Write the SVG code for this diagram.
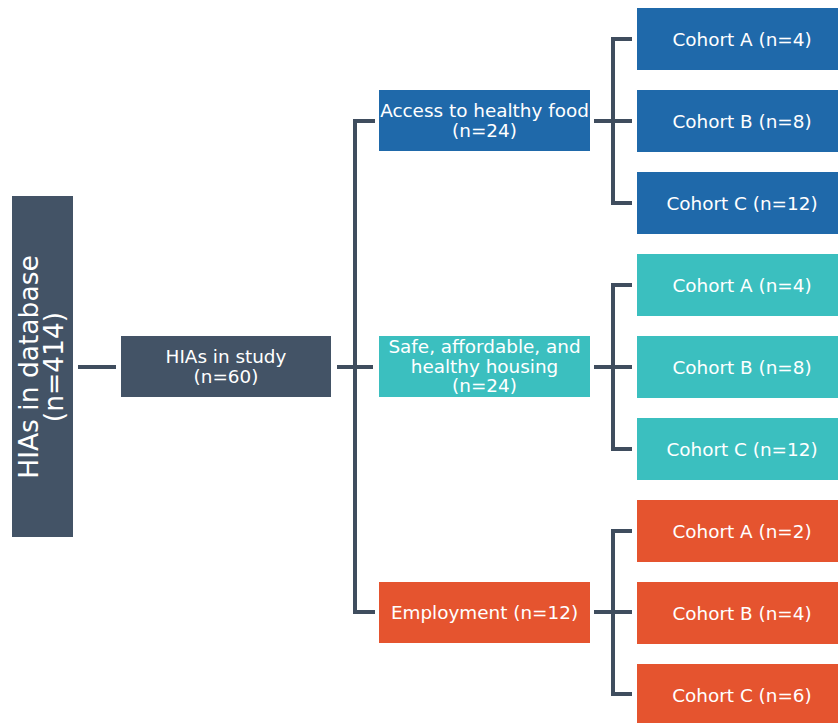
<svg xmlns="http://www.w3.org/2000/svg" width="838" height="723" viewBox="0 0 838 723">
<style>
text{font-family:"DejaVu Sans",Verdana,sans-serif;fill:#ffffff;text-anchor:middle}
.t{font-size:18.4px}
.slate{fill:#435366}
.blue{fill:#1f69aa}
.teal{fill:#3bbfbf}
.orange{fill:#e5542f}
.c{fill:none;stroke:#3f4d5e;stroke-width:4}
</style>
<rect width="838" height="723" fill="#ffffff"/>
<g id="connectors">
<path class="c" d="M78 367H116"/>
<path class="c" d="M337 367H373"/>
<path class="c" d="M375 121H355V612H375"/>
<path class="c" d="M594 121H632"/>
<path class="c" d="M594 367H632"/>
<path class="c" d="M594 612H632"/>
<path class="c" d="M632 39H613V203H632"/>
<path class="c" d="M632 285H613V449H632"/>
<path class="c" d="M632 531H613V694H632"/>
</g>
<g id="database">
<rect class="slate" x="12" y="196" width="61" height="341"/>
<text transform="translate(42 367) rotate(-90)" style="font-size:26.5px"><tspan x="0" y="-4">HIAs in database</tspan><tspan x="0" y="21">(n=414)</tspan></text>
</g>
<g id="study">
<rect class="slate" x="121" y="336" width="210" height="61"/>
<text class="t"><tspan x="226" y="363">HIAs in study</tspan><tspan x="226" y="383">(n=60)</tspan></text>
</g>
<g id="food">
<rect class="blue" x="379" y="90" width="211" height="61"/>
<text class="t"><tspan x="484.5" y="117">Access to healthy food</tspan><tspan x="484.5" y="137">(n=24)</tspan></text>
</g>
<g id="housing">
<rect class="teal" x="379" y="336" width="211" height="61"/>
<text class="t"><tspan x="484.5" y="353">Safe, affordable, and</tspan><tspan x="484.5" y="373">healthy housing</tspan><tspan x="484.5" y="392">(n=24)</tspan></text>
</g>
<g id="employment">
<rect class="orange" x="379" y="582" width="211" height="61"/>
<text class="t" x="484.5" y="619">Employment (n=12)</text>
</g>
<g id="food-a"><rect class="blue" x="637" y="8" width="201" height="62"/><text class="t" x="742" y="46">Cohort A (n=4)</text></g>
<g id="food-b"><rect class="blue" x="637" y="90" width="201" height="62"/><text class="t" x="742" y="128">Cohort B (n=8)</text></g>
<g id="food-c"><rect class="blue" x="637" y="172" width="201" height="62"/><text class="t" x="742" y="210">Cohort C (n=12)</text></g>
<g id="housing-a"><rect class="teal" x="637" y="254" width="201" height="62"/><text class="t" x="742" y="292">Cohort A (n=4)</text></g>
<g id="housing-b"><rect class="teal" x="637" y="336" width="201" height="62"/><text class="t" x="742" y="374">Cohort B (n=8)</text></g>
<g id="housing-c"><rect class="teal" x="637" y="418" width="201" height="62"/><text class="t" x="742" y="456">Cohort C (n=12)</text></g>
<g id="employment-a"><rect class="orange" x="637" y="500" width="201" height="62"/><text class="t" x="742" y="538">Cohort A (n=2)</text></g>
<g id="employment-b"><rect class="orange" x="637" y="582" width="201" height="62"/><text class="t" x="742" y="620">Cohort B (n=4)</text></g>
<g id="employment-c"><rect class="orange" x="637" y="664" width="201" height="62"/><text class="t" x="742" y="702">Cohort C (n=6)</text></g>
</svg>
